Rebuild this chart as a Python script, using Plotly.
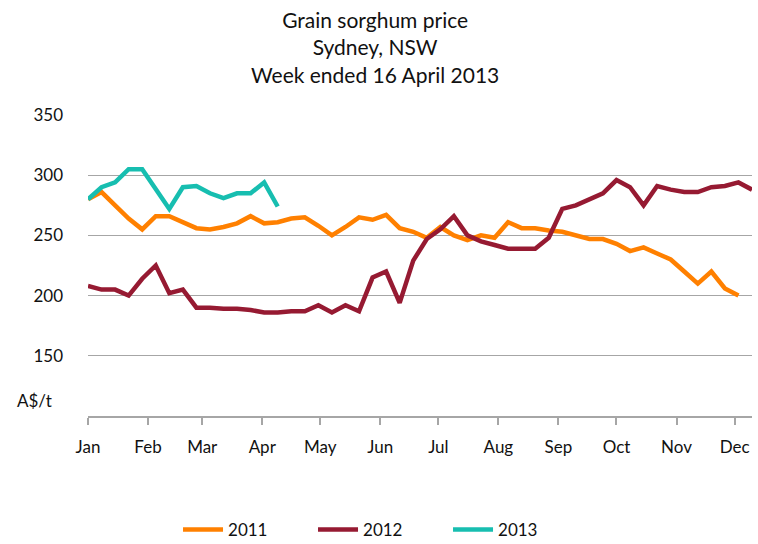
import pandas as pd
import plotly.graph_objects as go

# Weekly prices (A$/t), plotted on a common Jan-Dec axis
prices_2011 = [280, 286, 275, 264, 255, 266, 266, 261, 256, 255, 257, 260, 266, 260, 261, 264, 265,
               258, 250, 257, 265, 263, 267, 256, 253, 248, 257, 250, 246, 250, 248, 261, 256, 256,
               254, 253, 250, 247, 247, 243, 237, 240, 235, 230, 220, 210, 220, 206, 200]
prices_2012 = [208, 205, 205, 200, 214, 225, 202, 205, 190, 190, 189, 189, 188, 186, 186, 187, 187,
               192, 186, 192, 187, 215, 220, 194, 229, 247, 255, 266, 250, 245, 242, 239, 239, 239,
               248, 272, 275, 280, 285, 296, 290, 275, 291, 288, 286, 286, 290, 291, 294, 288]
prices_2013 = [280, 290, 294, 305, 305, 288, 272, 290, 291, 285, 281, 285, 285, 294, 274]

series_names = ["2011", "2012", "2013"]
series_values = [prices_2011, prices_2012, prices_2013]
series_colors = ["#FF8000", "#961A32", "#17BEB0"]

month_ticks = pd.date_range("2013-01-01", "2013-12-01", freq="MS")
month_labels = ["Jan", "Feb", "Mar", "Apr", "May", "Jun", "Jul", "Aug", "Sep", "Oct", "Nov", "Dec"]
y_ticks = [150, 200, 250, 300, 350]

FONT = "Lato, Carlito, 'Liberation Sans', sans-serif"
TXT = "#111111"

fig = go.Figure()
for name, vals, col in zip(series_names, series_values, series_colors):
    dates = pd.date_range("2013-01-01", periods=len(vals), freq="7D")
    fig.add_trace(go.Scatter(x=dates, y=vals, mode="lines", name=name,
                             line=dict(color=col, width=4.5)))

fig.update_layout(
    width=758, height=544,
    margin=dict(l=88, r=6, t=115, b=128, autoexpand=False),
    paper_bgcolor="white", plot_bgcolor="white",
    font=dict(family=FONT, size=17, color=TXT),
    showlegend=True,
    legend=dict(orientation="h", x=0.502, xref="container", xanchor="center",
                y=0.026, yref="container", yanchor="middle",
                font=dict(family=FONT, size=17, color=TXT),
                entrywidth=80, itemwidth=40, traceorder="normal"),
    xaxis=dict(type="date", automargin=False,
               range=["2013-01-01", "2013-12-10"],
               tickvals=list(month_ticks), ticktext=month_labels,
               showgrid=False, zeroline=False,
               showline=True, linecolor="#A6A6A6", linewidth=1.5,
               ticks="outside", ticklen=7, tickcolor="#A6A6A6", tickwidth=1.5,
               tickfont=dict(family=FONT, size=17, color=TXT),
               ticklabelstandoff=8),
    yaxis=dict(range=[100, 350], tickvals=y_ticks, automargin=False,
               ticktext=[str(v) for v in y_ticks],
               showgrid=True, gridcolor="#A6A6A6", gridwidth=1.2,
               zeroline=False, showline=False, ticks="",
               tickfont=dict(family=FONT, size=17, color=TXT),
               ticklabelstandoff=24),
)

fig.add_annotation(text="Grain sorghum price<br>Sydney, NSW<br>Week ended 16 April 2013",
                   xref="paper", yref="paper", x=0.432, y=1.365,
                   xanchor="center", yanchor="top", align="center", showarrow=False,
                   font=dict(family=FONT, size=21, color=TXT))

fig.add_annotation(text="A$/t", xref="paper", yref="y", x=-0.08, y=113,
                   xanchor="center", yanchor="middle", showarrow=False,
                   font=dict(family=FONT, size=17, color=TXT))

fig.write_html("out.html", config={"displayModeBar": False},
               post_script="document.body.style.margin='0px';")
